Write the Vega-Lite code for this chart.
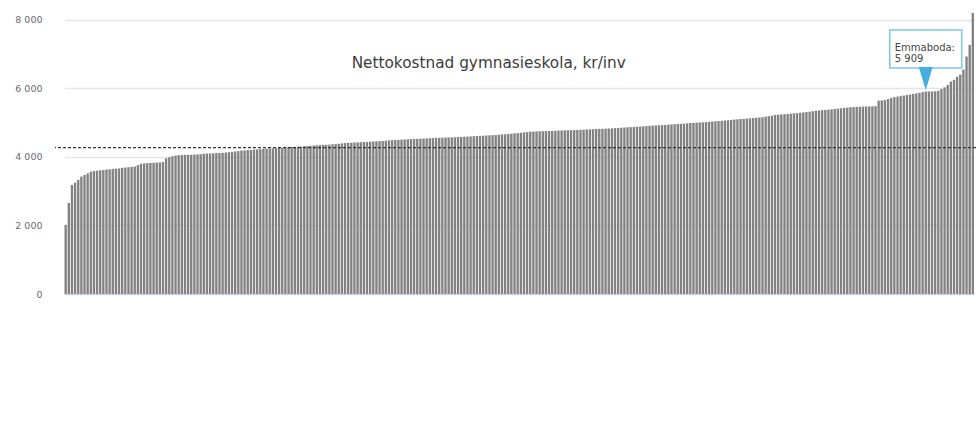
{
  "$schema": "https://vega.github.io/schema/vega-lite/v6.json",
  "width": 921,
  "height": 281,
  "autosize": {"type": "none"},
  "padding": {"left": 55, "top": 13, "right": 0, "bottom": 139},
  "background": "white",
  "title": {
    "text": "Nettokostnad gymnasieskola, kr/inv",
    "frame": "bounds",
    "anchor": "middle",
    "offset": -70,
    "dx": -7,
    "baseline": "alphabetic",
    "font": "DejaVu Sans",
    "fontSize": 15.3,
    "fontWeight": "normal",
    "color": "#3c3c3c"
  },
  "config": {
    "view": {"stroke": null},
    "font": "DejaVu Sans"
  },
  "data": {
    "values": [
      {"rank": 1, "v": 2015}, {"rank": 2, "v": 2657}, {"rank": 3, "v": 3180}, {"rank": 4, "v": 3250}, {"rank": 5, "v": 3330},
      {"rank": 6, "v": 3425}, {"rank": 7, "v": 3475}, {"rank": 8, "v": 3520}, {"rank": 9, "v": 3570}, {"rank": 10, "v": 3590},
      {"rank": 11, "v": 3600}, {"rank": 12, "v": 3610}, {"rank": 13, "v": 3615}, {"rank": 14, "v": 3630}, {"rank": 15, "v": 3640},
      {"rank": 16, "v": 3650}, {"rank": 17, "v": 3655}, {"rank": 18, "v": 3665}, {"rank": 19, "v": 3680}, {"rank": 20, "v": 3690},
      {"rank": 21, "v": 3700}, {"rank": 22, "v": 3710}, {"rank": 23, "v": 3720}, {"rank": 24, "v": 3760}, {"rank": 25, "v": 3800},
      {"rank": 26, "v": 3810}, {"rank": 27, "v": 3820}, {"rank": 28, "v": 3825}, {"rank": 29, "v": 3830}, {"rank": 30, "v": 3835},
      {"rank": 31, "v": 3840}, {"rank": 32, "v": 3850}, {"rank": 33, "v": 3960}, {"rank": 34, "v": 3990}, {"rank": 35, "v": 4020},
      {"rank": 36, "v": 4040}, {"rank": 37, "v": 4050}, {"rank": 38, "v": 4055}, {"rank": 39, "v": 4060}, {"rank": 40, "v": 4060},
      {"rank": 41, "v": 4065}, {"rank": 42, "v": 4070}, {"rank": 43, "v": 4075}, {"rank": 44, "v": 4080}, {"rank": 45, "v": 4095},
      {"rank": 46, "v": 4100}, {"rank": 47, "v": 4100}, {"rank": 48, "v": 4105}, {"rank": 49, "v": 4110}, {"rank": 50, "v": 4115},
      {"rank": 51, "v": 4120}, {"rank": 52, "v": 4130}, {"rank": 53, "v": 4140}, {"rank": 54, "v": 4150}, {"rank": 55, "v": 4160},
      {"rank": 56, "v": 4170}, {"rank": 57, "v": 4185}, {"rank": 58, "v": 4190}, {"rank": 59, "v": 4200}, {"rank": 60, "v": 4205},
      {"rank": 61, "v": 4215}, {"rank": 62, "v": 4220}, {"rank": 63, "v": 4230}, {"rank": 64, "v": 4235}, {"rank": 65, "v": 4240},
      {"rank": 66, "v": 4245}, {"rank": 67, "v": 4250}, {"rank": 68, "v": 4255}, {"rank": 69, "v": 4260}, {"rank": 70, "v": 4265},
      {"rank": 71, "v": 4280}, {"rank": 72, "v": 4285}, {"rank": 73, "v": 4290}, {"rank": 74, "v": 4295}, {"rank": 75, "v": 4300},
      {"rank": 76, "v": 4305}, {"rank": 77, "v": 4310}, {"rank": 78, "v": 4320}, {"rank": 79, "v": 4325}, {"rank": 80, "v": 4335},
      {"rank": 81, "v": 4340}, {"rank": 82, "v": 4345}, {"rank": 83, "v": 4350}, {"rank": 84, "v": 4355}, {"rank": 85, "v": 4360},
      {"rank": 86, "v": 4370}, {"rank": 87, "v": 4375}, {"rank": 88, "v": 4385}, {"rank": 89, "v": 4395}, {"rank": 90, "v": 4405},
      {"rank": 91, "v": 4410}, {"rank": 92, "v": 4415}, {"rank": 93, "v": 4420}, {"rank": 94, "v": 4425}, {"rank": 95, "v": 4430},
      {"rank": 96, "v": 4435}, {"rank": 97, "v": 4440}, {"rank": 98, "v": 4445}, {"rank": 99, "v": 4450}, {"rank": 100, "v": 4455},
      {"rank": 101, "v": 4460}, {"rank": 102, "v": 4465}, {"rank": 103, "v": 4475}, {"rank": 104, "v": 4485}, {"rank": 105, "v": 4490},
      {"rank": 106, "v": 4495}, {"rank": 107, "v": 4500}, {"rank": 108, "v": 4505}, {"rank": 109, "v": 4510}, {"rank": 110, "v": 4515},
      {"rank": 111, "v": 4520}, {"rank": 112, "v": 4525}, {"rank": 113, "v": 4525}, {"rank": 114, "v": 4530}, {"rank": 115, "v": 4535},
      {"rank": 116, "v": 4540}, {"rank": 117, "v": 4545}, {"rank": 118, "v": 4550}, {"rank": 119, "v": 4555}, {"rank": 120, "v": 4558},
      {"rank": 121, "v": 4560}, {"rank": 122, "v": 4565}, {"rank": 123, "v": 4568}, {"rank": 124, "v": 4572}, {"rank": 125, "v": 4575},
      {"rank": 126, "v": 4580}, {"rank": 127, "v": 4585}, {"rank": 128, "v": 4590}, {"rank": 129, "v": 4595}, {"rank": 130, "v": 4600},
      {"rank": 131, "v": 4605}, {"rank": 132, "v": 4610}, {"rank": 133, "v": 4615}, {"rank": 134, "v": 4620}, {"rank": 135, "v": 4625},
      {"rank": 136, "v": 4630}, {"rank": 137, "v": 4635}, {"rank": 138, "v": 4640}, {"rank": 139, "v": 4650}, {"rank": 140, "v": 4655},
      {"rank": 141, "v": 4660}, {"rank": 142, "v": 4670}, {"rank": 143, "v": 4680}, {"rank": 144, "v": 4690}, {"rank": 145, "v": 4695},
      {"rank": 146, "v": 4705}, {"rank": 147, "v": 4715}, {"rank": 148, "v": 4725}, {"rank": 149, "v": 4735}, {"rank": 150, "v": 4740},
      {"rank": 151, "v": 4745}, {"rank": 152, "v": 4750}, {"rank": 153, "v": 4752}, {"rank": 154, "v": 4755}, {"rank": 155, "v": 4758},
      {"rank": 156, "v": 4760}, {"rank": 157, "v": 4765}, {"rank": 158, "v": 4770}, {"rank": 159, "v": 4772}, {"rank": 160, "v": 4775},
      {"rank": 161, "v": 4778}, {"rank": 162, "v": 4780}, {"rank": 163, "v": 4785}, {"rank": 164, "v": 4788}, {"rank": 165, "v": 4790},
      {"rank": 166, "v": 4795}, {"rank": 167, "v": 4800}, {"rank": 168, "v": 4805}, {"rank": 169, "v": 4810}, {"rank": 170, "v": 4815},
      {"rank": 171, "v": 4818}, {"rank": 172, "v": 4820}, {"rank": 173, "v": 4825}, {"rank": 174, "v": 4830}, {"rank": 175, "v": 4835},
      {"rank": 176, "v": 4840}, {"rank": 177, "v": 4845}, {"rank": 178, "v": 4852}, {"rank": 179, "v": 4858}, {"rank": 180, "v": 4864},
      {"rank": 181, "v": 4870}, {"rank": 182, "v": 4876}, {"rank": 183, "v": 4882}, {"rank": 184, "v": 4888}, {"rank": 185, "v": 4894},
      {"rank": 186, "v": 4900}, {"rank": 187, "v": 4908}, {"rank": 188, "v": 4915}, {"rank": 189, "v": 4920}, {"rank": 190, "v": 4925},
      {"rank": 191, "v": 4930}, {"rank": 192, "v": 4936}, {"rank": 193, "v": 4942}, {"rank": 194, "v": 4948}, {"rank": 195, "v": 4954},
      {"rank": 196, "v": 4960}, {"rank": 197, "v": 4966}, {"rank": 198, "v": 4972}, {"rank": 199, "v": 4980}, {"rank": 200, "v": 4990},
      {"rank": 201, "v": 4995}, {"rank": 202, "v": 5000}, {"rank": 203, "v": 5005}, {"rank": 204, "v": 5010}, {"rank": 205, "v": 5018},
      {"rank": 206, "v": 5025}, {"rank": 207, "v": 5032}, {"rank": 208, "v": 5040}, {"rank": 209, "v": 5048}, {"rank": 210, "v": 5055},
      {"rank": 211, "v": 5062}, {"rank": 212, "v": 5070}, {"rank": 213, "v": 5080}, {"rank": 214, "v": 5090}, {"rank": 215, "v": 5098},
      {"rank": 216, "v": 5105}, {"rank": 217, "v": 5112}, {"rank": 218, "v": 5120}, {"rank": 219, "v": 5128}, {"rank": 220, "v": 5135},
      {"rank": 221, "v": 5142}, {"rank": 222, "v": 5150}, {"rank": 223, "v": 5160}, {"rank": 224, "v": 5175}, {"rank": 225, "v": 5190},
      {"rank": 226, "v": 5205}, {"rank": 227, "v": 5225}, {"rank": 228, "v": 5232}, {"rank": 229, "v": 5240}, {"rank": 230, "v": 5248},
      {"rank": 231, "v": 5255}, {"rank": 232, "v": 5262}, {"rank": 233, "v": 5270}, {"rank": 234, "v": 5280}, {"rank": 235, "v": 5290},
      {"rank": 236, "v": 5300}, {"rank": 237, "v": 5310}, {"rank": 238, "v": 5320}, {"rank": 239, "v": 5335}, {"rank": 240, "v": 5350},
      {"rank": 241, "v": 5360}, {"rank": 242, "v": 5365}, {"rank": 243, "v": 5370}, {"rank": 244, "v": 5380}, {"rank": 245, "v": 5390},
      {"rank": 246, "v": 5400}, {"rank": 247, "v": 5410}, {"rank": 248, "v": 5420}, {"rank": 249, "v": 5430}, {"rank": 250, "v": 5440},
      {"rank": 251, "v": 5450}, {"rank": 252, "v": 5458}, {"rank": 253, "v": 5462}, {"rank": 254, "v": 5466}, {"rank": 255, "v": 5470},
      {"rank": 256, "v": 5472}, {"rank": 257, "v": 5475}, {"rank": 258, "v": 5478}, {"rank": 259, "v": 5482}, {"rank": 260, "v": 5640},
      {"rank": 261, "v": 5650}, {"rank": 262, "v": 5660}, {"rank": 263, "v": 5690}, {"rank": 264, "v": 5720}, {"rank": 265, "v": 5745},
      {"rank": 266, "v": 5760}, {"rank": 267, "v": 5775}, {"rank": 268, "v": 5790}, {"rank": 269, "v": 5805}, {"rank": 270, "v": 5820},
      {"rank": 271, "v": 5840}, {"rank": 272, "v": 5855}, {"rank": 273, "v": 5870}, {"rank": 274, "v": 5890}, {"rank": 275, "v": 5909, "kommun": "Emmaboda"},
      {"rank": 276, "v": 5910}, {"rank": 277, "v": 5912}, {"rank": 278, "v": 5915}, {"rank": 279, "v": 5930}, {"rank": 280, "v": 5985},
      {"rank": 281, "v": 6030}, {"rank": 282, "v": 6100}, {"rank": 283, "v": 6200}, {"rank": 284, "v": 6250}, {"rank": 285, "v": 6340},
      {"rank": 286, "v": 6400}, {"rank": 287, "v": 6550}, {"rank": 288, "v": 6930}, {"rank": 289, "v": 7270}, {"rank": 290, "v": 8200}
    ]
  },
  "encoding": {
    "x": {
      "field": "rank",
      "type": "ordinal",
      "scale": {"paddingInner": 0.25, "paddingOuter": 0, "range": [9.5, 919]},
      "axis": null
    },
    "y": {
      "field": "v",
      "type": "quantitative",
      "scale": {"domain": [0, 8200], "nice": false},
      "axis": {
        "title": null,
        "values": [0, 2000, 4000, 6000, 8000],
        "labelExpr": "replace(format(datum.value, ','), ',', ' ')",
        "domain": false,
        "ticks": false,
        "grid": true,
        "gridColor": {"condition": {"test": "datum.value === 0", "value": "#c9d8e8"}, "value": "#e6e6e6"},
        "gridWidth": 1.5,
        "labelPadding": 13,
        "labelFontSize": 9.5,
        "labelColor": "#6a6a6a",
        "labelFont": "DejaVu Sans"
      }
    }
  },
  "layer": [
    {
      "mark": {"type": "bar", "color": "#828282"}
    },
    {
      "data": {"values": [{"snitt": 4270}]},
      "mark": {"type": "rule", "color": "#333333", "strokeWidth": 1.3, "strokeDash": [3, 2]},
      "encoding": {
        "x": null,
        "y": {"field": "snitt", "type": "quantitative"}
      }
    },
    {
      "transform": [{"filter": "datum.kommun === 'Emmaboda'"}],
      "mark": {
        "type": "point",
        "shape": "M-36,-61.5 H36 V-23.5 H-36 Z",
        "size": 4,
        "filled": true,
        "fill": "white",
        "stroke": "#7cc7e6",
        "strokeWidth": 1.5,
        "opacity": 1
      }
    },
    {
      "transform": [{"filter": "datum.kommun === 'Emmaboda'"}],
      "mark": {
        "type": "point",
        "shape": "M-7,-24.5 L7,-24.5 L0,-1.5 Z",
        "size": 4,
        "filled": true,
        "fill": "#45b0e0",
        "strokeWidth": 0,
        "opacity": 1
      }
    },
    {
      "transform": [{"filter": "datum.kommun === 'Emmaboda'"}],
      "mark": {
        "type": "text",
        "align": "left",
        "baseline": "alphabetic",
        "dx": -31,
        "dy": -40.5,
        "fontSize": 10,
        "lineHeight": 11,
        "font": "DejaVu Sans",
        "color": "#454545"
      },
      "encoding": {
        "text": {"value": ["Emmaboda:", "5 909"]}
      }
    }
  ]
}
